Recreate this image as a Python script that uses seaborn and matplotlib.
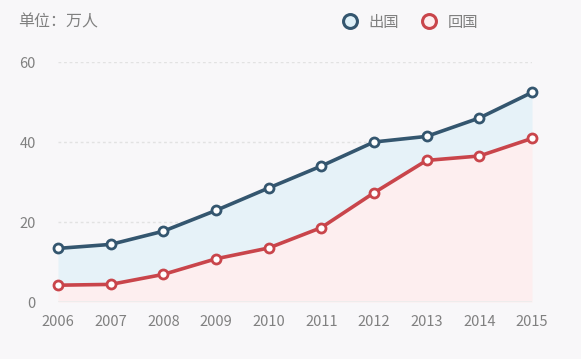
import numpy as np
import pandas as pd
import matplotlib.pyplot as plt
import seaborn as sns
from matplotlib.lines import Line2D

# Data (unit: 10k people)
years = [2006, 2007, 2008, 2009, 2010, 2011, 2012, 2013, 2014, 2015]
outbound = [13.4, 14.4, 17.7, 22.9, 28.5, 34.0, 40.0, 41.4, 46.0, 52.4]
returned = [4.2, 4.4, 6.9, 10.8, 13.5, 18.6, 27.3, 35.4, 36.5, 40.9]
series_names = ['出国', '回国']
y_ticks = [0, 20, 40, 60]

blue = '#34566f'
red = '#c9454b'
bg = '#f8f7f9'
text_gray = '#808080'

sns.set_theme(style='white')
plt.rcParams['font.family'] = ['Noto Sans CJK SC', 'DejaVu Sans']

df = pd.DataFrame({'year': years * 2,
                   'value': outbound + returned,
                   'series': [series_names[0]] * len(years) + [series_names[1]] * len(years)})

fig = plt.figure(figsize=(5.81, 3.59), dpi=100)
fig.patch.set_facecolor(bg)
ax = fig.add_axes([58 / 581, 57 / 359, 474 / 581, 240 / 359])
ax.set_facecolor(bg)

# Filled areas
ax.fill_between(years, returned, outbound, color='#e6f2f8', lw=0, zorder=1)
ax.fill_between(years, 0, returned, color='#fdeeef', lw=0, zorder=1)

sns.lineplot(data=df, x='year', y='value', hue='series',
             palette=[blue, red], marker='o', markersize=6.5,
             markerfacecolor='white', markeredgewidth=2,
             linewidth=2.6, legend=False, ax=ax, zorder=3)
for line, c in zip(ax.lines, [blue, red]):
    line.set_markeredgecolor(c)
    line.set_clip_on(False)

ax.set_xlim(2006, 2015)
ax.set_ylim(0, 60)
ax.set_xticks(years)
ax.set_yticks(y_ticks)
ax.tick_params(axis='both', length=0, labelsize=10.5, colors=text_gray)
ax.tick_params(axis='x', pad=9)
ax.tick_params(axis='y', pad=16)
ax.set_xlabel('')
ax.set_ylabel('')
for s in ax.spines.values():
    s.set_visible(False)
for yv in y_ticks[1:]:
    ax.axhline(yv, color='#e2e2e2', lw=1, ls=(0, (2, 2)), zorder=0)
ax.axhline(0, color='#ececec', lw=1.2, zorder=2)

fig.text(18 / 581, 1 - 22 / 359, '单位：万人', fontsize=11.5, color=text_gray,
         va='center', ha='left')

handles = [Line2D([], [], marker='o', ls='', markersize=10, markerfacecolor='#dff0f8',
                  markeredgecolor=blue, markeredgewidth=2.2),
           Line2D([], [], marker='o', ls='', markersize=10, markerfacecolor='#fdeeef',
                  markeredgecolor=red, markeredgewidth=2.2)]
leg = fig.legend(handles, series_names, loc='center right',
                 bbox_to_anchor=(478 / 581, 1 - 22 / 359), ncol=2, frameon=False,
                 fontsize=11, handletextpad=0.2, columnspacing=1.0,
                 borderaxespad=0, borderpad=0)
for t in leg.get_texts():
    t.set_color(text_gray)

fig.savefig('out.png', dpi=100, facecolor=bg)
